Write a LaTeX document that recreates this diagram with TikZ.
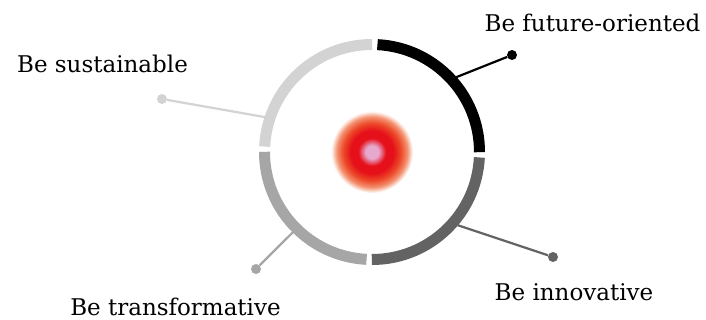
\documentclass[tikz,border=0pt]{standalone}
\usepackage{fontspec}
\setmainfont{DejaVu Serif}
\usetikzlibrary{calc}
\definecolor{ringA}{RGB}{0,0,0}
\definecolor{ringB}{RGB}{99,99,99}
\definecolor{ringC}{RGB}{166,166,166}
\definecolor{ringD}{RGB}{211,211,211}
\definecolor{glowpink}{RGB}{230,168,205}
\definecolor{glowred}{RGB}{230,16,26}
\definecolor{gloworange}{RGB}{236,72,40}
\definecolor{glowlight}{RGB}{243,145,112}
\definecolor{glowpale}{RGB}{252,226,215}
\pgfdeclareradialshading{redglow}{\pgfpoint{0bp}{0bp}}{color(0bp)=(glowpink); color(4bp)=(glowpink); color(8.5bp)=(glowred); color(13bp)=(glowred); color(17.5bp)=(gloworange); color(21.5bp)=(glowlight); color(24bp)=(glowpale); color(25bp)=(white); color(50bp)=(white)}
\tikzset{
  ringarc/.style={line width=11pt},
  conn/.style={line width=2.2pt},
  dotnode/.style={circle, inner sep=0pt, minimum size=10pt},
  lbl/.style={anchor=base, inner sep=0pt, font=\fontsize{23}{27}\selectfont, text=black}
}
\begin{document}
\begin{tikzpicture}[x=1pt,y=1pt]
\useasboundingbox (0,-320) rectangle (706,0);
\coordinate (C) at (372,-152);
% attachment points on ring
\coordinate (aF) at ($(C)+(42.5:108pt)$);
\coordinate (aS) at ($(C)+(161.6:108pt)$);
\coordinate (aT) at ($(C)+(225.4:108pt)$);
\coordinate (aI) at ($(C)+(-41.5:108pt)$);
% dots
\node[dotnode, fill=ringA] (dF) at (512,-55) {};
\node[dotnode, fill=ringD] (dS) at (162,-99) {};
\node[dotnode, fill=ringC] (dT) at (256,-269) {};
\node[dotnode, fill=ringB] (dI) at (553,-257) {};
% connectors
\draw[conn, draw=ringA] (aF) -- (dF);
\draw[conn, draw=ringD] (aS) -- (dS);
\draw[conn, draw=ringC] (aT) -- (dT);
\draw[conn, draw=ringB] (aI) -- (dI);
% ring
\draw[ringarc, draw=ringA] ($(C)+(87.1:107.5pt)$) arc[start angle=87.1, end angle=-0.1, radius=107.5pt];
\draw[ringarc, draw=ringB] ($(C)+(-2.9:107.5pt)$) arc[start angle=-2.9, end angle=-90.1, radius=107.5pt];
\draw[ringarc, draw=ringC] ($(C)+(-92.9:107.5pt)$) arc[start angle=-92.9, end angle=-180.1, radius=107.5pt];
\draw[ringarc, draw=ringD] ($(C)+(177.1:107.5pt)$) arc[start angle=177.1, end angle=89.9, radius=107.5pt];
% glow
\shade[shading=redglow] (C) circle[radius=41pt];
% labels
\node[lbl] (tF) at (592.5,-32) {Be future-oriented};
\node[lbl] (tS) at (102.5,-73) {Be sustainable};
\node[lbl] (tT) at (175.5,-315.5) {Be transformative};
\node[lbl] (tI) at (574,-300) {Be innovative};
\end{tikzpicture}
\end{document}
